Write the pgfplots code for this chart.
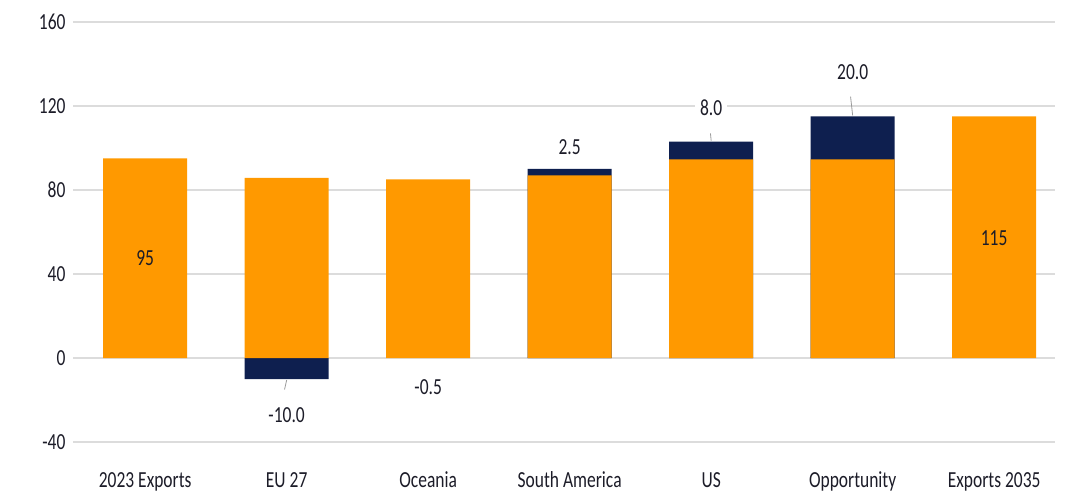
\documentclass[border=0pt]{standalone}
\usepackage{fontspec}
\setmainfont{Carlito}[FakeStretch=0.76]
\usepackage{pgfplots}
\pgfplotsset{compat=1.18}
\usetikzlibrary{calc}

\definecolor{barorange}{HTML}{FF9900}
\definecolor{barnavy}{HTML}{0E1F4F}
\definecolor{gridgray}{HTML}{DCDCDC}
\definecolor{txt}{HTML}{1C1C28}
\definecolor{leader}{HTML}{9A9A9A}

\begin{document}
\begin{tikzpicture}
  \begin{axis}[
    scale only axis,
    width=982pt,
    height=420pt,
    xmin=-0.51, xmax=6.43,
    ymin=-40, ymax=160,
    ytick={-40,0,40,80,120,160},
    xtick={0,1,2,3,4,5,6},
    xticklabels={2023 Exports,EU 27,Oceania,South America,US,Opportunity,Exports 2035},
    ybar,
    bar width=84pt,
    bar shift=0pt,
    axis line style={draw=none},
    major tick length=0pt,
    ymajorgrids,
    grid style={gridgray, line width=1.2pt},
    /pgf/number format/assume math mode=true,
    tick label style={font=\fontsize{23}{26}\selectfont, text=txt},
    yticklabel style={xshift=-4pt},
    xticklabel style={anchor=base, yshift=-45pt},
    clip=false,
  ]
    \coordinate (sw) at (rel axis cs:0,0);
    \coordinate (ne) at (rel axis cs:1,1);
    % navy deltas drawn first, orange bars on top
    \addplot[fill=barnavy, draw=none] coordinates {
      (1,-10) (3,90) (4,103) (5,115)
    };
    \addplot[fill=barorange, draw=none] coordinates {
      (0,95) (1,85.8) (2,85) (3,87) (4,94.6) (5,94.6) (6,115)
    };
    % leader lines
    \draw[leader, line width=0.8pt] (axis cs:1,-10.5) -- (axis cs:0.985,-15);
    \draw[leader, line width=0.8pt] (axis cs:4,103.5) -- (axis cs:3.995,107);
    \draw[leader, line width=0.8pt] (axis cs:5,115.5) -- (axis cs:4.985,124.5);
    % value labels
    \begin{scope}[every node/.style={font=\fontsize{23}{26}\selectfont, text=txt, inner sep=2pt}]
      \node at (axis cs:0,47.6) {95};
      \node at (axis cs:6,57) {115};
      \node at (axis cs:1,-27) {-10.0};
      \node at (axis cs:2,-14) {-0.5};
      \node at (axis cs:3,100.5) {2.5};
      \node[fill=white, inner xsep=5pt] at (axis cs:4,119) {8.0};
      \node at (axis cs:5,136) {20.0};
    \end{scope}
  \end{axis}
  \pgfresetboundingbox
  \path ($(sw)+(-73pt,-53pt)$) rectangle ($(ne)+(16pt,22pt)$);
\end{tikzpicture}
\end{document}
